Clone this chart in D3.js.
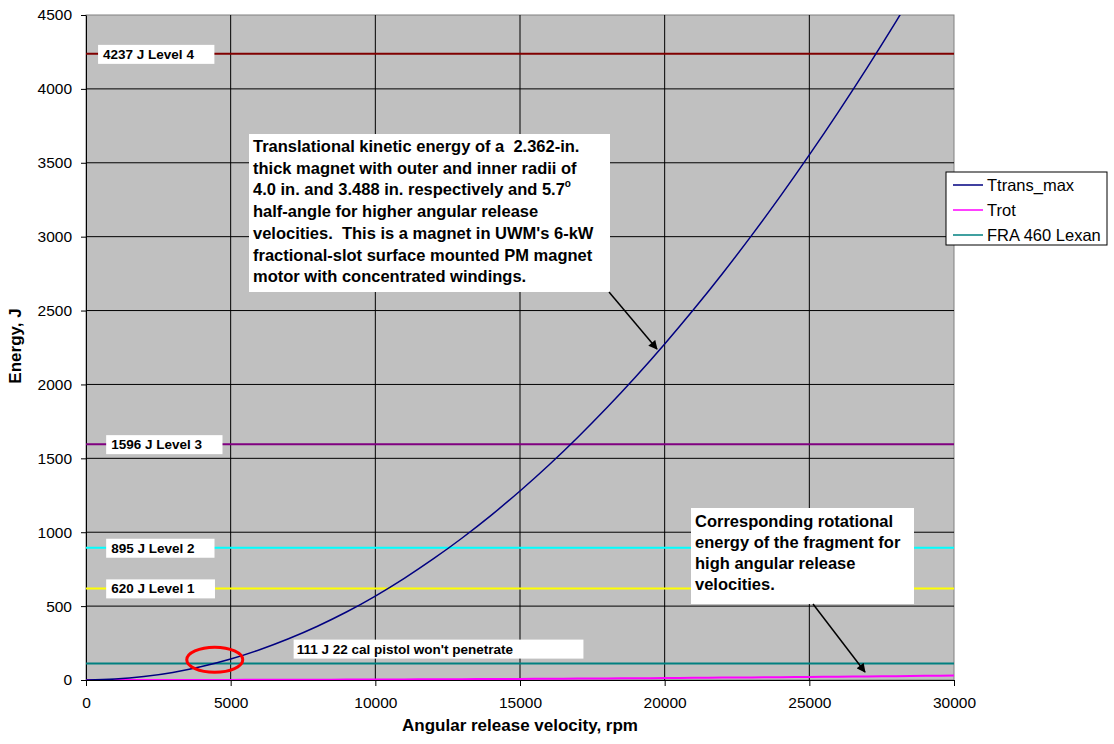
<!DOCTYPE html>
<html>
<head>
<meta charset="utf-8">
<script src="https://cdn.jsdelivr.net/npm/d3@7"></script>
<style>
  body { margin: 0; background: #fff; }
  svg { font-family: Arial, "Liberation Sans", sans-serif; }
  .pre { white-space: pre; }
</style>
</head>
<body>
<svg width="1114" height="744"></svg>
<script>
// data
const rpm = [0, 1000, 2000, 3000, 4000, 5000, 6000, 7000, 8000, 9000, 10000, 11000, 12000, 13000, 14000,
  15000, 16000, 17000, 18000, 19000, 20000, 21000, 22000, 23000, 24000, 25000, 26000, 27000, 28000, 29000, 30000]
const ttransMax = [0, 6, 23, 51, 91, 142, 205, 279, 364, 460, 568, 688, 819, 961, 1114,
  1279, 1455, 1643, 1842, 2052, 2274, 2507, 2751, 3007, 3274, 3553, 3843, 4144, 4457, 4781, 5116]
const trot = [0, 0, 0.1, 0.3, 0.5, 0.8, 1.2, 1.6, 2.1, 2.7, 3.3, 4, 4.8, 5.6, 6.5,
  7.5, 8.5, 9.6, 10.8, 12, 13.3, 14.7, 16.1, 17.6, 19.2, 20.8, 22.5, 24.3, 26.1, 28, 30]

const levelValues = [111, 620, 895, 1596, 4237]
const levelLabels = ["111 J 22 cal pistol won't penetrate", "620 J Level 1", "895 J Level 2", "1596 J Level 3", "4237 J Level 4"]
const levelColors = ['#008080', '#ffff00', '#00ffff', '#800080', '#800000']
const levelLabelRpm = [7280, 870, 870, 870, 590]

const xTicks = [0, 5000, 10000, 15000, 20000, 25000, 30000]
const yTicks = [0, 500, 1000, 1500, 2000, 2500, 3000, 3500, 4000, 4500]

const seriesNames = ['Ttrans_max', 'Trot', 'FRA 460 Lexan']
const seriesColors = ['#000080', '#ff00ff', '#008080']

const note1 = ["Translational kinetic energy of a  2.362-in.", "thick magnet with outer and inner radii of",
  "4.0 in. and 3.488 in. respectively and 5.7", "half-angle for higher angular release",
  "velocities.  This is a magnet in UWM's 6-kW", "fractional-slot surface mounted PM magnet",
  "motor with concentrated windings."]
const note2 = ["Corresponding rotational", "energy of the fragment for", "high angular release", "velocities."]

const svg = d3.select('svg')
const font = 'Arial, "Liberation Sans", sans-serif'

const x = d3.scaleLinear().domain([0, 30000]).range([86, 954])
const y = d3.scaleLinear().domain([0, 4500]).range([680, 15])

// plot background
svg.append('rect')
  .attr('x', x(0))
  .attr('y', y(4500))
  .attr('width', x(30000) - x(0))
  .attr('height', y(0) - y(4500))
  .attr('fill', '#c0c0c0')
  .attr('stroke', '#808080')

const defs = svg.append('defs')
defs.append('clipPath').attr('id', 'plotclip')
  .append('rect')
  .attr('x', x(0))
  .attr('y', y(4500))
  .attr('width', x(30000) - x(0))
  .attr('height', y(0) - y(4500))

defs.append('marker')
  .attr('id', 'arrow')
  .attr('viewBox', '0 0 10 10')
  .attr('refX', 9)
  .attr('refY', 5)
  .attr('markerWidth', 10)
  .attr('markerHeight', 9)
  .attr('markerUnits', 'userSpaceOnUse')
  .attr('orient', 'auto')
  .append('path')
  .attr('d', 'M0,0 L10,5 L0,10 z')
  .attr('fill', '#000')

// grid
svg.append('g').selectAll('line')
  .data(xTicks.slice(1, -1))
  .enter()
  .append('line')
  .attr('x1', d => x(d)).attr('x2', d => x(d))
  .attr('y1', y(0)).attr('y2', y(4500))
  .attr('stroke', '#000')
svg.append('g').selectAll('line')
  .data(yTicks.slice(1, -1))
  .enter()
  .append('line')
  .attr('x1', x(0)).attr('x2', x(30000))
  .attr('y1', d => y(d)).attr('y2', d => y(d))
  .attr('stroke', '#000')

// axes
const xAxis = svg.append('g')
  .attr('transform', `translate(0,${y(0)})`)
  .call(d3.axisBottom(x).tickValues(xTicks).tickSize(6).tickSizeOuter(0).tickFormat(d3.format('d')))
xAxis.select('.domain').attr('stroke', '#000')
xAxis.selectAll('text').attr('font-size', 15.5).attr('font-family', font).attr('dy', '1.25em').attr('fill', '#000')

const yAxis = svg.append('g')
  .attr('transform', `translate(${x(0)},0)`)
  .call(d3.axisLeft(y).tickValues(yTicks).tickSize(5).tickSizeOuter(0).tickFormat(d3.format('d')))
yAxis.select('.domain').attr('stroke', '#000')
yAxis.selectAll('text').attr('font-size', 15.5).attr('font-family', font).attr('x', -14).attr('fill', '#000')

// level lines + series
const plot = svg.append('g').attr('clip-path', 'url(#plotclip)')
levelValues.forEach((v, i) => {
  plot.append('line')
    .attr('x1', x(0)).attr('x2', x(30000))
    .attr('y1', y(v)).attr('y2', y(v))
    .attr('stroke', levelColors[i])
    .attr('stroke-width', 2)
})

const line = d3.line()
  .x((d, i) => x(rpm[i]))
  .y(d => y(d))
  .curve(d3.curveMonotoneX)

plot.append('path')
  .datum(trot)
  .attr('d', line)
  .attr('fill', 'none')
  .attr('stroke', seriesColors[1])
  .attr('stroke-width', 2)

plot.append('path')
  .datum(ttransMax)
  .attr('d', line)
  .attr('fill', 'none')
  .attr('stroke', seriesColors[0])
  .attr('stroke-width', 1.5)

// level labels in white boxes
levelValues.forEach((v, i) => {
  const g = svg.append('g')
  const pistol = i == 0
  const t = g.append('text')
    .attr('x', x(levelLabelRpm[i]))
    .attr('y', pistol ? y(v) - 10 : y(v) + 5)
    .attr('font-size', 13.5)
    .attr('font-weight', 'bold')
    .text(levelLabels[i])
  const bb = t.node().getBBox()
  g.insert('rect', 'text')
    .attr('x', bb.x - (pistol ? 3 : 5))
    .attr('y', pistol ? y(v) - 24 : y(v) - 9)
    .attr('width', bb.width + (pistol ? 73 : 25))
    .attr('height', 19)
    .attr('fill', '#fff')
})

// red ellipse
svg.append('ellipse')
  .attr('cx', x(4450))
  .attr('cy', y(137))
  .attr('rx', 28)
  .attr('ry', 12.5)
  .attr('fill', 'none')
  .attr('stroke', '#ff0000')
  .attr('stroke-width', 3)

// annotations
function noteBox(lines, bx, by, bw, bh, first, lh, sup) {
  const g = svg.append('g')
  g.append('rect').attr('x', bx).attr('y', by).attr('width', bw).attr('height', bh).attr('fill', '#fff')
  const t = g.append('text')
    .attr('class', 'pre')
    .attr('font-size', 16.5)
    .attr('font-weight', 'bold')
  lines.forEach((l, i) => {
    t.append('tspan').attr('x', bx + 4).attr('y', by + first + i * lh).text(l)
    if (sup && i == 2) {
      t.append('tspan').attr('dy', -8).attr('font-size', 10).text('o')
    }
  })
}
noteBox(note1, 249, 134, 361, 158, 18, 21.7, true)
noteBox(note2, 691, 508, 223, 96, 19, 21, false)

svg.append('line')
  .attr('x1', 609).attr('y1', 292)
  .attr('x2', 657).attr('y2', 349)
  .attr('stroke', '#000').attr('stroke-width', 1.5)
  .attr('marker-end', 'url(#arrow)')
svg.append('line')
  .attr('x1', 813).attr('y1', 604)
  .attr('x2', 865).attr('y2', 672)
  .attr('stroke', '#000').attr('stroke-width', 1.5)
  .attr('marker-end', 'url(#arrow)')

// axis titles
svg.append('text')
  .attr('x', 520)
  .attr('y', 731)
  .attr('text-anchor', 'middle')
  .attr('font-size', 17)
  .attr('font-weight', 'bold')
  .text('Angular release velocity, rpm')
svg.append('text')
  .attr('transform', `translate(21,346) rotate(-90)`)
  .attr('text-anchor', 'middle')
  .attr('font-size', 17)
  .attr('font-weight', 'bold')
  .text('Energy, J')

// legend
const legend = svg.append('g').attr('transform', 'translate(946,172)')
legend.append('rect')
  .attr('width', 161).attr('height', 73)
  .attr('fill', '#fff').attr('stroke', '#000')
seriesNames.forEach((s, i) => {
  legend.append('line')
    .attr('x1', 7).attr('x2', 37)
    .attr('y1', 13 + i * 25).attr('y2', 13 + i * 25)
    .attr('stroke', seriesColors[i]).attr('stroke-width', 1.5)
  legend.append('text')
    .attr('x', 41).attr('y', 19 + i * 25)
    .attr('font-size', 16.5)
    .text(s)
})
</script>
</body>
</html>
